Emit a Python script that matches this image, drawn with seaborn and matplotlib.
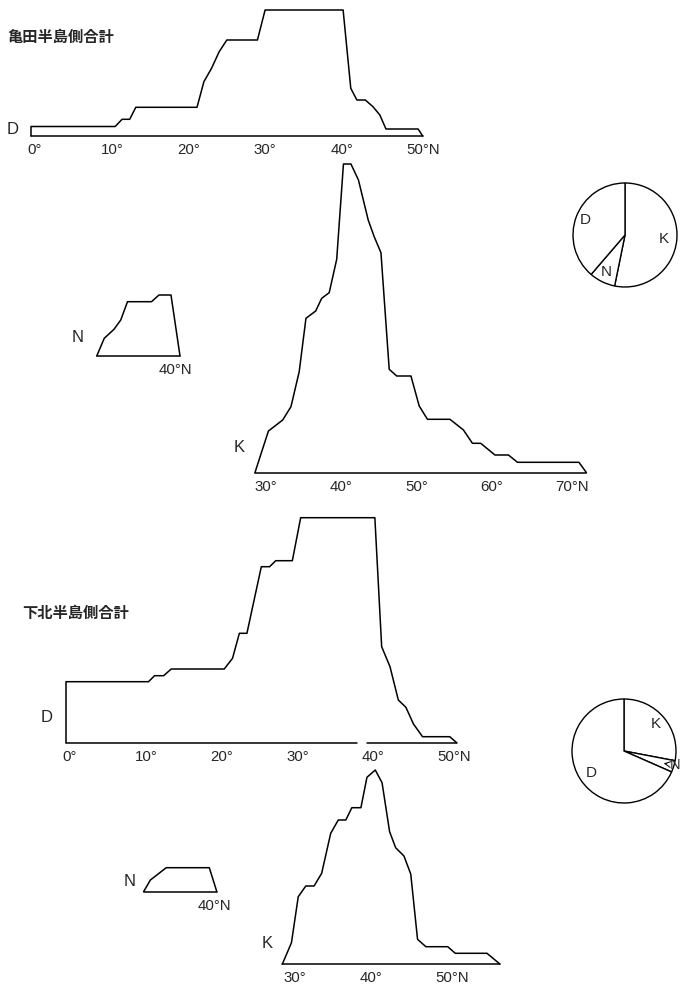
import matplotlib
matplotlib.use('Agg')
import matplotlib.pyplot as plt
import seaborn as sns
import numpy as np
from matplotlib.transforms import offset_copy

# 亀田半島側合計 -- D
KAMEDA_D_LAT = [0, 0, 11.0, 11.9, 12.9, 13.7, 21.7, 22.6, 23.6, 24.6, 25.6, 29.6,
                30.6, 40.8, 41.8, 42.6, 43.7, 44.7, 45.6, 46.4, 50.6, 51.2]
KAMEDA_D_FREQ = [0, 9.5, 9.5, 16.7, 16.7, 28.7, 28.7, 54.3, 67.7, 84.3, 96, 96,
                 126, 126, 47.7, 36, 36, 29.3, 21, 7, 7, 0]

# 亀田半島側合計 -- K
KAMEDA_K_LAT = [29.1, 30.0, 30.9, 32.8, 33.9, 35.0, 35.9, 37.2, 38.0, 39.0, 40.0,
                40.9, 41.9, 42.9, 44.2, 45.0, 45.9, 47.0, 48.0, 49.9, 51.0, 52.1,
                55.1, 56.9, 58.1, 59.2, 61.1, 62.9, 64.1, 72.3, 73.3]
KAMEDA_K_FREQ = [0, 21, 41.7, 52.7, 66, 101, 154.4, 161.7, 174.4, 180, 213.4,
                 308.7, 308.7, 292.7, 252.7, 236, 220, 103.4, 96.7, 96.7, 66.7, 53.4,
                 53.4, 42.7, 29.4, 29.4, 17.7, 17.7, 10.4, 10.4, 0]

# 亀田半島側合計 -- N
KAMEDA_N_LAT = [30.9, 31.9, 33.2, 34.1, 35.0, 38.2, 39.2, 40.8, 42.0]
KAMEDA_N_FREQ = [0, 17.7, 26.7, 36, 54.3, 54.3, 61, 61, 0]

# 下北半島側合計 -- D
SHIMO_D_LAT = [0, 0, 10.9, 11.7, 12.9, 13.9, 20.9, 22.0, 22.9, 23.9, 25.8, 26.9,
               27.7, 29.9, 31.0, 40.8, 41.7, 42.8, 43.9, 44.9, 45.9, 47.1, 50.7, 51.6]
SHIMO_D_FREQ = [0, 61, 61, 67, 67, 73.7, 73.7, 84.4, 109.4, 109.4, 176, 176,
                182, 182, 225, 225, 96, 76, 42.7, 35.4, 18.7, 6, 6, 0]
SHIMO_D_GAP = (38.4, 39.7)

# 下北半島側合計 -- K
SHIMO_K_LAT = [28.9, 30.1, 31.0, 32.0, 33.1, 34.1, 35.3, 36.3, 37.3, 38.1, 39.3,
               40.1, 41.2, 42.1, 43.1, 43.9, 45.0, 45.9, 46.8, 47.9, 50.8, 51.8,
               56.0, 57.7]
SHIMO_K_FREQ = [0, 21.3, 67.3, 78, 78, 90.7, 130.7, 144, 144, 156.3, 156.3,
                186.7, 194, 181.3, 132.3, 116.3, 108, 90, 24.7, 17.3, 17.3, 10.7,
                10.7, 0]

# 下北半島側合計 -- N
SHIMO_N_LAT = [32.0, 32.9, 35.0, 40.7, 41.7]
SHIMO_N_FREQ = [0, 11.7, 24, 24, 0]

# pie shares (%), order K, N, D
PIE_LABELS = ['K', 'N', 'D']
KAMEDA_PIE = [53.2, 8.1, 38.7]
SHIMO_PIE = [28.0, 3.6, 68.4]

TICKS_0_50 = [0, 10, 20, 30, 40, 50]
LABELS_0_50 = ['0°', '10°', '20°', '30°', '40°', '50°N']
TICKS_30_70 = [30, 40, 50, 60, 70]
LABELS_30_70 = ['30°', '40°', '50°', '60°', '70°N']
TICKS_30_50 = [30, 40, 50]
LABELS_30_50 = ['30°', '40°', '50°N']
TICKS_40 = [40]
LABELS_40 = ['40°N']

W, H = 683, 984
LATIN = ['Liberation Sans', 'DejaVu Sans']
CJK = ['Noto Sans CJK JP', 'DejaVu Sans']

sns.set_style('white')
plt.rcParams['font.family'] = LATIN

fig = plt.figure(figsize=(W / 100, H / 100), dpi=100)


def painel(ref_deg, ref_px, ppd, base_px, lat, freq, ticks, labels, tick_len=0, gap=None):
    xmin, xmax = lat[0] - 0.5, lat[-1] + 0.5
    ymax = max(freq) + 4
    left = ref_px + (xmin - ref_deg) * ppd
    ax = fig.add_axes([left / W, 1 - base_px / H, (xmax - xmin) * ppd / W, ymax / H])
    sns.lineplot(x=lat, y=freq, sort=False, estimator=None, color='black', lw=1.1, ax=ax)
    if gap is None:
        sns.lineplot(x=[lat[0], lat[-1]], y=[0, 0], color='black', lw=1.1, ax=ax)
    else:
        sns.lineplot(x=[lat[0], gap[0]], y=[0, 0], color='black', lw=1.1, ax=ax)
        sns.lineplot(x=[gap[1], lat[-1]], y=[0, 0], color='black', lw=1.1, ax=ax)
    for ln in ax.lines:
        ln.set_clip_on(False)
    ax.set_xlim(xmin, xmax)
    ax.set_ylim(0, ymax)
    ax.set_yticks([])
    ax.set_xticks(ticks, labels=[''] * len(ticks))
    ax.tick_params(axis='x', length=tick_len, width=1, color='black', direction='out')
    for s in ax.spines.values():
        s.set_visible(False)
    ax.set_facecolor('none')
    for t, lab in zip(ticks, labels):
        n = sum(ch.isdigit() for ch in lab)
        tr = offset_copy(ax.transData, fig=fig, x=-n * 3.4, y=-7, units='dots')
        ax.text(t, 0, lab, transform=tr, ha='left', va='top', fontsize=10.8, clip_on=False)
    return ax


def rotulo(px, py, txt, size=11, family=LATIN, weight='normal'):
    fig.text(px / W, 1 - py / H, txt, ha='left', va='center', fontsize=size,
             family=family, weight=weight)


def pizza(cx, cy, r, sizes, dists, arrow_label=None):
    ax = fig.add_axes([(cx - 1.3 * r) / W, 1 - (cy + 1.3 * r) / H, 2.6 * r / W, 2.6 * r / H])
    wedges, _ = ax.pie(sizes, startangle=90, counterclock=False, colors=['white'] * 3,
                       wedgeprops=dict(edgecolor='black', linewidth=1.0))
    ax.set_xlim(-1.3, 1.3)
    ax.set_ylim(-1.3, 1.3)
    ax.set_aspect('equal')
    for w, lab, d in zip(wedges, PIE_LABELS, dists):
        mid = np.deg2rad((w.theta1 + w.theta2) / 2)
        if lab == arrow_label:
            ax.annotate(lab, xy=(0.8 * np.cos(mid), 0.8 * np.sin(mid)),
                        xytext=(d * np.cos(mid), d * np.sin(mid)),
                        ha='left', va='center', fontsize=10.5, annotation_clip=False,
                        arrowprops=dict(arrowstyle='->', color='black', lw=0.7,
                                        shrinkA=0, shrinkB=0))
        else:
            ax.text(d * np.cos(mid), d * np.sin(mid), lab, ha='center', va='center',
                    fontsize=11)
    return ax


# 亀田半島側
painel(0, 31, 7.65, 136, KAMEDA_D_LAT, KAMEDA_D_FREQ, TICKS_0_50, LABELS_0_50)
painel(30, 261.7, 7.5, 472.7, KAMEDA_K_LAT, KAMEDA_K_FREQ, TICKS_30_70, LABELS_30_70)
painel(40, 165, 7.5, 356, KAMEDA_N_LAT, KAMEDA_N_FREQ, TICKS_40, LABELS_40, tick_len=3)
pizza(625, 235, 52, KAMEDA_PIE, [0.75, 0.8, 0.82])

rotulo(7, 37, '亀田半島側合計', size=11, family=CJK, weight='bold')
rotulo(7, 130, 'D', size=12)
rotulo(234, 447, 'K', size=12)
rotulo(72, 338, 'N', size=12)

# 下北半島側
painel(0, 66, 7.57, 742.7, SHIMO_D_LAT, SHIMO_D_FREQ, TICKS_0_50, LABELS_0_50, gap=SHIMO_D_GAP)
painel(30, 290.7, 7.55, 964, SHIMO_K_LAT, SHIMO_K_FREQ, TICKS_30_50, LABELS_30_50)
painel(40, 204, 7.55, 891.7, SHIMO_N_LAT, SHIMO_N_FREQ, TICKS_40, LABELS_40, tick_len=3)
pizza(624, 751, 52, SHIMO_PIE, [0.8, 0.93, 0.76], arrow_label='N')

rotulo(22, 613, '下北半島側合計', size=11, family=CJK, weight='bold')
rotulo(41, 717, 'D', size=12)
rotulo(262, 943, 'K', size=12)
rotulo(124, 881, 'N', size=12)

fig.savefig('out.png', dpi=100, facecolor='white')
